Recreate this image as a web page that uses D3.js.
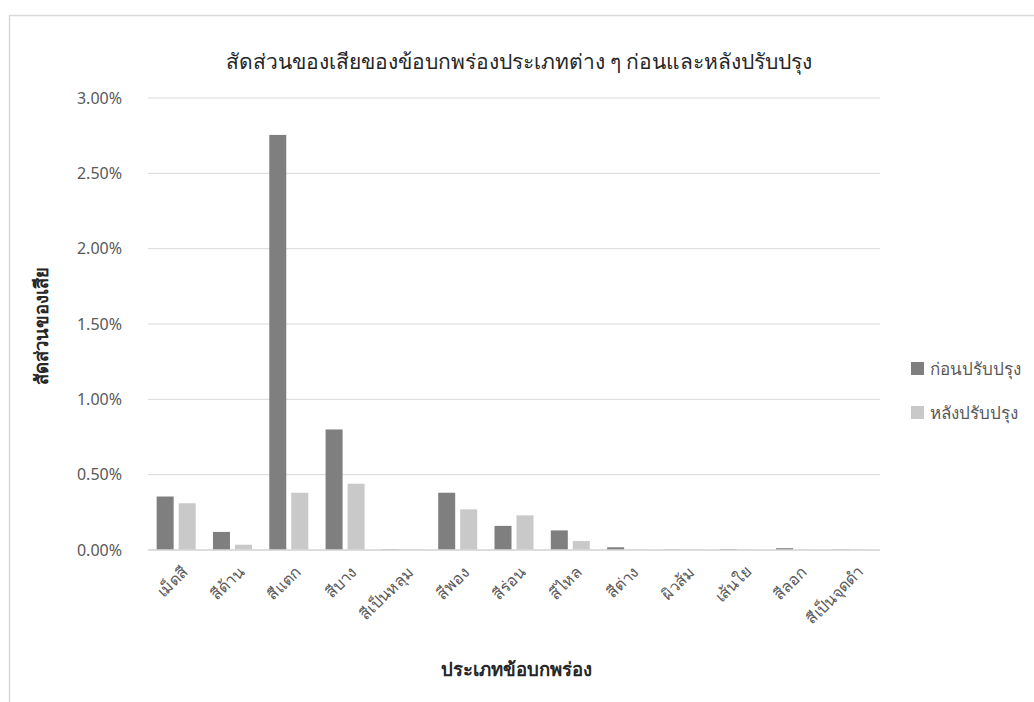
<!DOCTYPE html>
<html><head><meta charset="utf-8">
<script src="https://cdn.jsdelivr.net/npm/d3@7"></script>
<style>
body{margin:0;background:#fff;}
text{font-family:"Noto Sans","DejaVu Sans",sans-serif;}
</style></head>
<body><svg id="c" width="1034" height="702"></svg>
<script>
const categories = ["เม็ดสี","สีด้าน","สีแตก","สีบาง","สีเป็นหลุม","สีพอง","สีร่อน","สีไหล","สีต่าง","ผิวส้ม","เส้นใย","สีลอก","สีเป็นจุดดำ"];
const seriesNames = ["ก่อนปรับปรุง","หลังปรับปรุง"];
const before = [0.355,0.12,2.755,0.80,0.004,0.38,0.16,0.13,0.018,0.003,0.006,0.012,0.003];
const after  = [0.31,0.035,0.38,0.44,0.002,0.27,0.23,0.06,0.002,0.002,0.001,0.001,0.001];
const yTicks = [0,0.5,1,1.5,2,2.5,3];
const colors = ["#7f7f7f","#c9c9c9"];

const svg = d3.select("#c");
svg.append("path").attr("d","M9.5,702 L9.5,15.5 L1034,15.5").attr("fill","none").attr("stroke","#d9d9d9").attr("stroke-width",1.5);

const x0 = d3.scaleBand().domain(categories).range([148,880]).paddingInner(0).paddingOuter(0);
const y = d3.scaleLinear().domain([0,3]).range([550,98]);

const g = svg.append("g");
g.selectAll("line.grid").data(yTicks).join("line")
  .attr("x1",148).attr("x2",880)
  .attr("y1",d=>y(d)).attr("y2",d=>y(d))
  .attr("stroke","#d9d9d9").attr("stroke-width",1);

const yAxis = d3.axisLeft(y).tickValues(yTicks).tickSize(0).tickPadding(0)
  .tickFormat(d=>d3.format(".2f")(d)+"%");
const ya = svg.append("g").attr("transform","translate(122,0)").call(yAxis);
ya.select(".domain").remove();
ya.selectAll("text").attr("fill","#595959").style("font-size","16px");

const bw = 17, gap = 5;
const series = [before, after];
series.forEach((vals,si)=>{
  svg.append("g").selectAll("rect").data(vals).join("rect")
    .attr("x",(d,i)=>x0(categories[i]) + x0.bandwidth()/2 - (bw+gap/2) + si*(bw+gap))
    .attr("width",bw)
    .attr("y",d=>y(d))
    .attr("height",d=>Math.max(0,y(0)-y(d)))
    .attr("fill",colors[si]);
});

svg.append("line").attr("x1",148).attr("x2",880).attr("y1",y(0)).attr("y2",y(0))
  .attr("stroke","#d9d9d9").attr("stroke-width",1.5);

const xAxis = d3.axisBottom(x0).tickSize(0).tickPadding(0);
const xa = svg.append("g").attr("transform",`translate(0,${y(0)})`).call(xAxis);
xa.select(".domain").remove();
xa.selectAll("text")
  .attr("fill","#595959").style("font-size","16px")
  .attr("text-anchor","end")
  .attr("dy","0.35em")
  .attr("transform","translate(9,19) rotate(-45)");

svg.append("text").attr("x",519).attr("y",69).attr("text-anchor","middle")
  .style("font-size","21px").attr("fill","#262626").text("สัดส่วนของเสียของข้อบกพร่องประเภทต่าง ๆ ก่อนและหลังปรับปรุง");

svg.append("text").attr("transform","translate(48,326) rotate(-90)").attr("text-anchor","middle")
  .style("font-size","18.5px").style("font-weight","bold").attr("fill","#262626").text("สัดส่วนของเสีย");
svg.append("text").attr("x",516).attr("y",676).attr("text-anchor","middle")
  .style("font-size","18.5px").style("font-weight","bold").attr("fill","#262626").text("ประเภทข้อบกพร่อง");

const lg = svg.append("g");
seriesNames.forEach((n,i)=>{
  lg.append("rect").attr("x",911).attr("y",362+i*44).attr("width",13).attr("height",13).attr("fill",colors[i]);
  lg.append("text").attr("x",930).attr("y",375+i*44).style("font-size","17px").attr("fill","#595959").text(n);
});
</script></body></html>
